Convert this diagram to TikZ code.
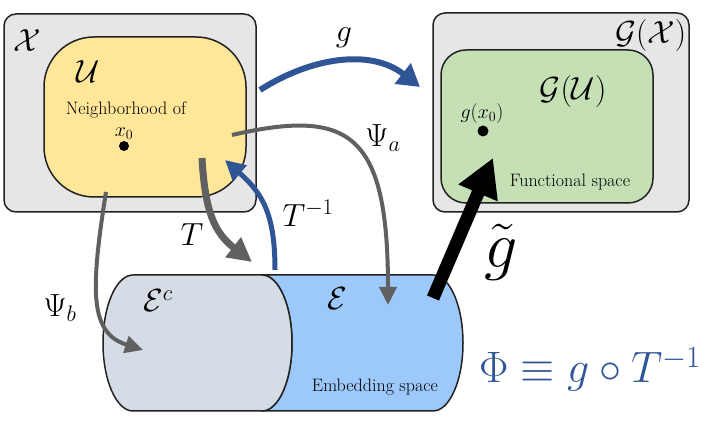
\RequirePackage{fix-cm}
\documentclass[tikz,border=0pt]{standalone}
\usetikzlibrary{arrows.meta}
\definecolor{boxgray}{RGB}{230,230,230}
\definecolor{nbhdyellow}{RGB}{255,230,153}
\definecolor{funcgreen}{RGB}{197,224,180}
\definecolor{cylgray}{RGB}{214,220,229}
\definecolor{cylblue}{RGB}{157,201,250}
\definecolor{mapblue}{RGB}{47,85,151}
\definecolor{mapgray}{RGB}{96,96,96}
\definecolor{edge}{RGB}{34,34,34}
\begin{document}
\begin{tikzpicture}[x=1pt, y=1pt, line width=1.5pt,
  space/.style={draw=edge, rounded corners=12pt, inner sep=0pt},
  lbl/.style={font=\fontsize{32}{36}\selectfont, inner sep=0pt},
  txt/.style={font=\fontsize{18}{21}\selectfont, inner sep=0pt},
  sml/.style={font=\fontsize{20}{24}\selectfont, inner sep=0pt},
  dot/.style={circle, fill=black, inner sep=0pt, minimum size=#1},
  map/.style={line width=#1, line cap=butt}]
  \useasboundingbox (0,0) rectangle (706,443);
  % input space and neighborhood
  \node[space, fill=boxgray, minimum width=252pt, minimum height=198pt] (X) at (130,330) {};
  \node[space, fill=nbhdyellow, rounded corners=50pt, minimum width=202pt, minimum height=160pt] (U) at (145,326) {};
  \node[lbl] (lX) at (27,402) {$\mathcal{X}$};
  \node[lbl] (lU) at (88,371) {$\mathcal{U}$};
  \node[txt] (nbtext) at (126,333) {Neighborhood of};
  \node[sml] (lx0) at (124,309) {$x_0$};
  \node[dot=10pt] (x0) at (124,297) {};
  % functional space
  \node[space, fill=boxgray, minimum width=256pt, minimum height=199pt] (GX) at (561,330.5) {};
  \node[space, fill=funcgreen, rounded corners=25pt, minimum width=212pt, minimum height=153pt] (GU) at (547,316.5) {};
  \node[lbl, anchor=east] (lGX) at (687,407) {$\mathcal{G}(\mathcal{X})$};
  \node[lbl] (lGU) at (573,351) {$\mathcal{G}(\mathcal{U})$};
  \node[sml] (lgx0) at (482,329) {$g(x_0)$};
  \node[dot=11pt] (gx0) at (483,312) {};
  \node[txt] (fstext) at (570,261) {Functional space};
  % embedding space (cylinder)
  \filldraw[draw=edge, fill=cylblue] (262,168) -- (433,168)
    arc[start angle=90, end angle=-90, x radius=30pt, y radius=68pt] -- (262,32)
    arc[start angle=-90, end angle=90, x radius=30pt, y radius=68pt] -- cycle;
  \filldraw[draw=edge, fill=cylgray] (133,168)
    arc[start angle=90, end angle=270, x radius=30pt, y radius=68pt] -- (262,32)
    arc[start angle=-90, end angle=90, x radius=30pt, y radius=68pt] -- cycle;
  \node[lbl] (lEc) at (158,142) {$\mathcal{E}^c$};
  \node[lbl] (lE) at (337,144) {$\mathcal{E}$};
  \node[txt] (estext) at (375,56) {Embedding space};
  % maps
  \coordinate (gS) at (260,353);
  \coordinate (gE) at (420,356);
  \coordinate (paS) at (232,308);
  \coordinate (paE) at (388,138);
  \coordinate (pbS) at (106,251);
  \coordinate (pbE) at (143,93);
  \coordinate (tS) at (202,285);
  \coordinate (tE) at (252,181);
  \coordinate (tiS) at (275,173);
  \coordinate (tiE) at (225,283);
  \coordinate (gtS) at (433,145);
  \coordinate (gtE) at (493,285);
  \draw[map=6pt, mapblue, -{Triangle[length=22pt,width=25pt]}] (gS) .. controls (310,385) and (370,395) .. (gE);
  \draw[map=4pt, mapgray, -{Triangle[length=18pt,width=17pt]}] (paS) .. controls (350,335) and (388,310) .. (paE);
  \draw[map=4pt, mapgray, -{Triangle[length=18pt,width=17pt]}] (pbS) .. controls (90,150) and (90,110) .. (pbE);
  \draw[map=7pt, mapgray, -{Triangle[length=24pt,width=24pt]}] (tS) .. controls (205,230) and (215,210) .. (tE);
  \draw[map=5pt, mapblue, -{Triangle[length=20pt,width=20pt]}] (tiS) .. controls (275,230) and (262,250) .. (tiE);
  \draw[map=13pt, black, -{Triangle[length=38pt,width=40pt]}] (gtS) -- (gtE);
  \node[lbl] (lg) at (344,405) {$g$};
  \node[lbl] (lpa) at (383,305) {$\Psi_a$};
  \node[lbl] (lpb) at (60,135) {$\Psi_b$};
  \node[lbl] (lT) at (192,208) {$T$};
  \node[lbl] (lTi) at (308,230) {$T^{-1}$};
  \node[font=\fontsize{66}{70}\selectfont, inner sep=0pt] (lgt) at (501,191) {$\tilde{g}$};
  \node[font=\fontsize{44}{50}\selectfont, text=mapblue, inner sep=0pt, anchor=base] (phi) at (590,60) {$\Phi\equiv g\circ T^{-1}$};
\end{tikzpicture}
\end{document}
